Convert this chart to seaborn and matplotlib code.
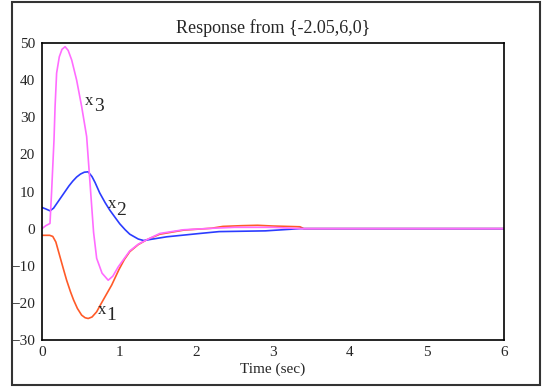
import matplotlib
matplotlib.use("Agg")
import matplotlib.pyplot as plt
import seaborn as sns
import pandas as pd
from matplotlib.patches import Rectangle

# ----------------------------
# Data
# ----------------------------
t1 = [0, 0.1, 0.14, 0.18, 0.234, 0.28, 0.32, 0.37, 0.41, 0.46, 0.515, 0.56, 0.60,
      0.65, 0.71, 0.76, 0.82, 0.905, 1.0, 1.07, 1.14, 1.25, 1.36, 1.53, 1.84, 2.2,
      2.35, 2.6, 2.8, 3.0, 3.35, 3.4, 6]
x1 = [-1.8, -1.8, -2.1, -3.6, -7.6, -11.0, -13.9, -17.0, -19.2, -21.5, -23.3, -24.0,
      -24.2, -23.8, -22.4, -20.5, -18.3, -15.2, -11.0, -8.3, -6.2, -4.3, -3.0, -1.5,
      -0.4, 0.1, 0.6, 0.8, 0.9, 0.7, 0.5, 0.0, 0.0]

t2 = [0, 0.05, 0.104, 0.15, 0.2, 0.25, 0.3, 0.35, 0.40, 0.45, 0.5, 0.55, 0.60,
      0.65, 0.69, 0.75, 0.82, 0.88, 0.95, 1.01, 1.08, 1.14, 1.25, 1.32, 1.62,
      2.05, 2.3, 2.9, 3.35, 6]
x2 = [5.7, 5.3, 4.8, 5.5, 7.0, 8.5, 10.0, 11.5, 12.8, 13.9, 14.7, 15.2, 15.3,
      14.0, 12.4, 9.6, 7.0, 5.0, 3.0, 1.3, -0.3, -1.5, -2.8, -3.2, -2.2,
      -1.3, -0.8, -0.6, 0.0, 0.0]

t3 = [0, 0.05, 0.104, 0.125, 0.156, 0.17, 0.19, 0.225, 0.26, 0.30, 0.34, 0.386,
      0.45, 0.515, 0.58, 0.67, 0.71, 0.78, 0.86, 0.92, 0.99, 1.07, 1.14, 1.25,
      1.36, 1.53, 1.84, 2.22, 2.5, 3.0, 3.35, 6]
x3 = [0.0, 0.8, 1.4, 10.0, 23.9, 32.9, 41.9, 46.3, 48.3, 49.0, 48.0, 45.4,
      40.0, 32.9, 24.8, -1.0, -8.0, -12.0, -13.9, -12.8, -10.3, -8.0, -6.0, -4.2,
      -3.0, -1.3, -0.3, 0.1, 0.35, 0.35, 0.0, 0.0]

series_names = ["x1", "x2", "x3"]
colors = ["#ff5a28", "#2b3cff", "#ff6cff"]

# label anchors (t, value) for the "x" and the digit
label_pos = [(0.72, -21.8), (0.85, 6.6), (0.56, 34.5)]

XTICKS = [0, 1, 2, 3, 4, 5, 6]
YTICKS = [-30, -20, -10, 0, 10, 20, 30, 40, 50]

# ----------------------------
# Plot
# ----------------------------
sns.set_style("white")
plt.rcParams["font.family"] = ["Liberation Serif", "DejaVu Serif"]

fig = plt.figure(figsize=(5.46, 3.87), dpi=100)
ax = fig.add_axes([0.0769, 0.1214, 0.8462, 0.7675])

for (tt, vals), name, c in zip([(t1, x1), (t2, x2), (t3, x3)], series_names, colors):
    df = pd.DataFrame({"t": tt, "v": vals})
    sns.lineplot(data=df, x="t", y="v", color=c, linewidth=1.2, ax=ax)

for (lt, lv), name in zip(label_pos, series_names):
    ax.text(lt, lv, "x", fontsize=12, va="center", ha="left")
    ax.text(lt + 0.11, lv - 1.7, name[1], fontsize=14, va="center", ha="left")

ax.set_xlim(0, 6)
ax.set_ylim(-30, 50)
ax.set_xticks(XTICKS)
ax.set_yticks(YTICKS)
ax.tick_params(axis="x", direction="in", length=4, width=1, labelsize=11, pad=4)
ax.tick_params(axis="y", direction="in", length=7, width=1, labelsize=11, pad=5)
ax.set_xlabel("Time (sec)", fontsize=11, labelpad=3)
ax.set_ylabel("")
ax.set_title("Response from {-2.05,6,0}", fontsize=13, pad=7)
for s in ax.spines.values():
    s.set_color("black")
    s.set_linewidth(1.2)

# outer frame
fig.patches.append(Rectangle((0.022, 0.005), 0.967, 0.99, transform=fig.transFigure,
                             fill=False, edgecolor="#333333", linewidth=1.5))

fig.savefig("out.png", dpi=100)
